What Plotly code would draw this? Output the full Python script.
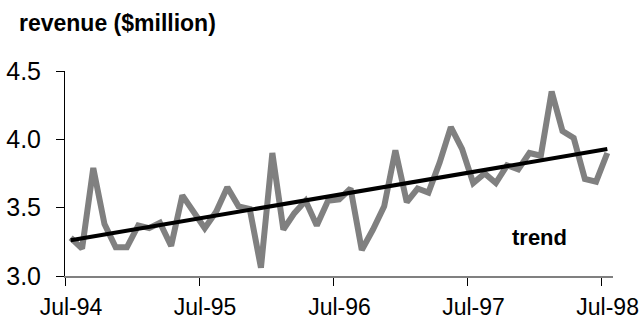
import numpy as np
import pandas as pd
import plotly.graph_objects as go

# Monthly revenue, Jul-94 .. Jul-98 ($million)
first_month = "1994-07-01"
revenue = [
    3.28, 3.20, 3.79, 3.38, 3.21, 3.21, 3.37, 3.35, 3.39, 3.22, 3.59, 3.46,
    3.35, 3.47, 3.65, 3.51, 3.49, 3.06, 3.90, 3.34, 3.46, 3.55, 3.37, 3.55,
    3.56, 3.64, 3.19, 3.34, 3.51, 3.92, 3.54, 3.64, 3.61, 3.83, 4.09, 3.93,
    3.68, 3.75, 3.68, 3.81, 3.78, 3.90, 3.88, 4.35, 4.06, 4.01, 3.71, 3.69,
    3.90,
]
tick_dates = ["1994-07-01", "1995-07-01", "1996-07-01", "1997-07-01", "1998-07-01"]
tick_labels = ["Jul-94", "Jul-95", "Jul-96", "Jul-97", "Jul-98"]
y_ticks = [3.0, 3.5, 4.0, 4.5]
y_title = "revenue ($million)"
trend_label = "trend"

# each month is plotted at the middle of its slot
starts = pd.date_range(first_month, periods=len(revenue) + 1, freq="MS")
mids = starts[:-1] + (starts[1:] - starts[:-1]) / 2

# least-squares linear trend
idx = np.arange(len(revenue))
slope, intercept = np.polyfit(idx, revenue, 1)
trend = intercept + slope * idx

font = "Liberation Sans, Arial, sans-serif"

fig = go.Figure()
fig.add_trace(go.Scatter(
    x=mids, y=revenue, mode="lines",
    line=dict(color="#808080", width=6), hoverinfo="skip",
))
fig.add_trace(go.Scatter(
    x=[mids[0], mids[-1]], y=[trend[0], trend[-1]], mode="lines",
    line=dict(color="#000000", width=4), hoverinfo="skip",
))

fig.add_annotation(
    xref="paper", yref="paper", x=-48 / 548, y=1 + 48 / 205,
    xanchor="left", yanchor="middle", showarrow=False,
    text="<b>" + y_title + "</b>", font=dict(family=font, size=23, color="#000"),
)
fig.add_annotation(
    xref="paper", yref="y", x=0.865, y=3.285,
    xanchor="center", yanchor="middle", showarrow=False,
    text="<b>" + trend_label + "</b>", font=dict(family=font, size=22, color="#000"),
)

fig.update_layout(
    width=642, height=323,
    margin=dict(l=65, r=29, t=71, b=47),
    paper_bgcolor="white", plot_bgcolor="white",
    showlegend=False,
    font=dict(family=font, color="#000"),
)
fig.update_xaxes(
    type="date", range=[first_month, starts[-1]],
    tickvals=tick_dates, ticktext=tick_labels,
    ticks="outside", ticklen=8, tickcolor="#000", tickwidth=1,
    ticklabelshift=6, ticklabelstandoff=1,
    showline=True, linecolor="#808080", linewidth=2,
    showgrid=False, zeroline=False, automargin=False,
    tickfont=dict(family=font, size=23, color="#000"),
)
fig.update_yaxes(
    range=[3.0, 4.5], tickvals=y_ticks, tickformat=".1f",
    ticks="outside", ticklen=8, tickcolor="#000", tickwidth=1,
    ticklabelstandoff=10,
    showline=True, linecolor="#000", linewidth=1,
    showgrid=False, zeroline=False, automargin=False,
    tickfont=dict(family=font, size=25, color="#000"),
)

fig.write_html("out.html")
